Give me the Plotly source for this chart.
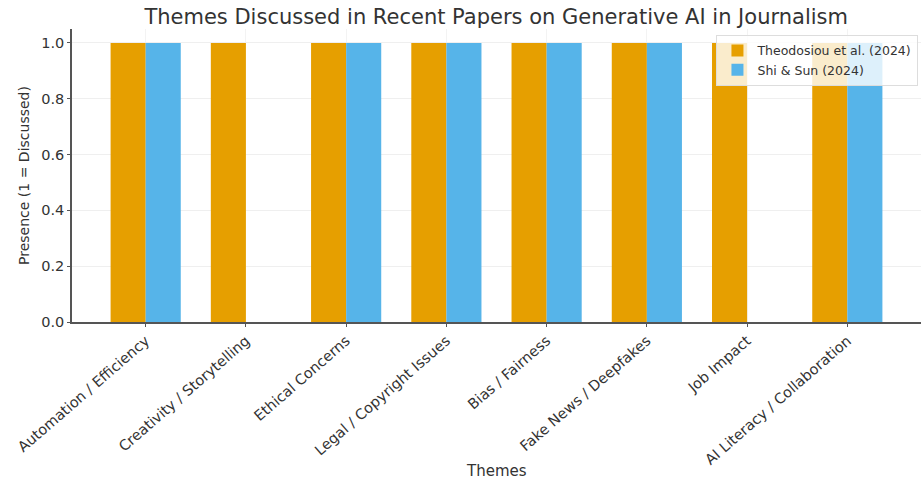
import plotly.graph_objects as go

themes = ["Automation / Efficiency", "Creativity / Storytelling", "Ethical Concerns",
          "Legal / Copyright Issues", "Bias / Fairness", "Fake News / Deepfakes",
          "Job Impact", "AI Literacy / Collaboration"]
theodosiou = [1, 1, 1, 1, 1, 1, 1, 1]
shi_sun = [1, 0, 1, 1, 1, 1, 0, 1]

FONT = "DejaVu Sans"
fig = go.Figure()
fig.add_trace(go.Bar(x=themes, y=theodosiou, name="Theodosiou et al. (2024)",
                     marker=dict(color="#E69F00", line=dict(width=0))))
fig.add_trace(go.Bar(x=themes, y=shi_sun, name="Shi & Sun (2024)",
                     marker=dict(color="#56B4E9", line=dict(width=0))))

fig.update_layout(
    width=924, height=483,
    barmode="group", bargap=0.3, bargroupgap=0,
    plot_bgcolor="white", paper_bgcolor="white",
    font=dict(family=FONT, color="#333333"),
    margin=dict(l=72, r=3, t=29, b=161),
    title=dict(text="Themes Discussed in Recent Papers on Generative AI in Journalism",
               x=0.537, xanchor="center", y=0.965, yanchor="middle",
               font=dict(size=21, color="#333333", family=FONT)),
    legend=dict(x=0.997, y=0.98, xanchor="right", yanchor="top",
                bgcolor="rgba(255,255,255,0.8)", bordercolor="#dddddd", borderwidth=1,
                font=dict(size=12.5, color="#333333", family=FONT),
                itemwidth=30, tracegroupgap=0),
    xaxis=dict(range=[-0.735, 7.735], tickangle=-41,
               tickfont=dict(size=14.5, color="#333333"),
               showgrid=True, gridcolor="#f3f3f3", gridwidth=1,
               showline=True, linecolor="#555555", linewidth=1.5,
               ticks="outside", ticklen=3, tickcolor="#555555"),
    yaxis=dict(range=[0, 1.05], tickvals=[0, 0.2, 0.4, 0.6, 0.8, 1.0],
               ticktext=["0.0", "0.2", "0.4", "0.6", "0.8", "1.0"],
               tickfont=dict(size=14.5, color="#333333"),
               showgrid=True, gridcolor="#efefef", gridwidth=1, zeroline=False,
               showline=True, linecolor="#555555", linewidth=1.5,
               ticks="outside", ticklen=3, tickcolor="#555555",
               title=dict(text="Presence (1 = Discussed)", font=dict(size=14, color="#333333"),
                          standoff=8)),
    annotations=[dict(text="Themes", xref="paper", yref="paper", x=0.5, y=-0.51,
                      xanchor="center", yanchor="middle", showarrow=False,
                      font=dict(size=15, color="#333333", family=FONT))],
)

fig.write_html("out.html")
